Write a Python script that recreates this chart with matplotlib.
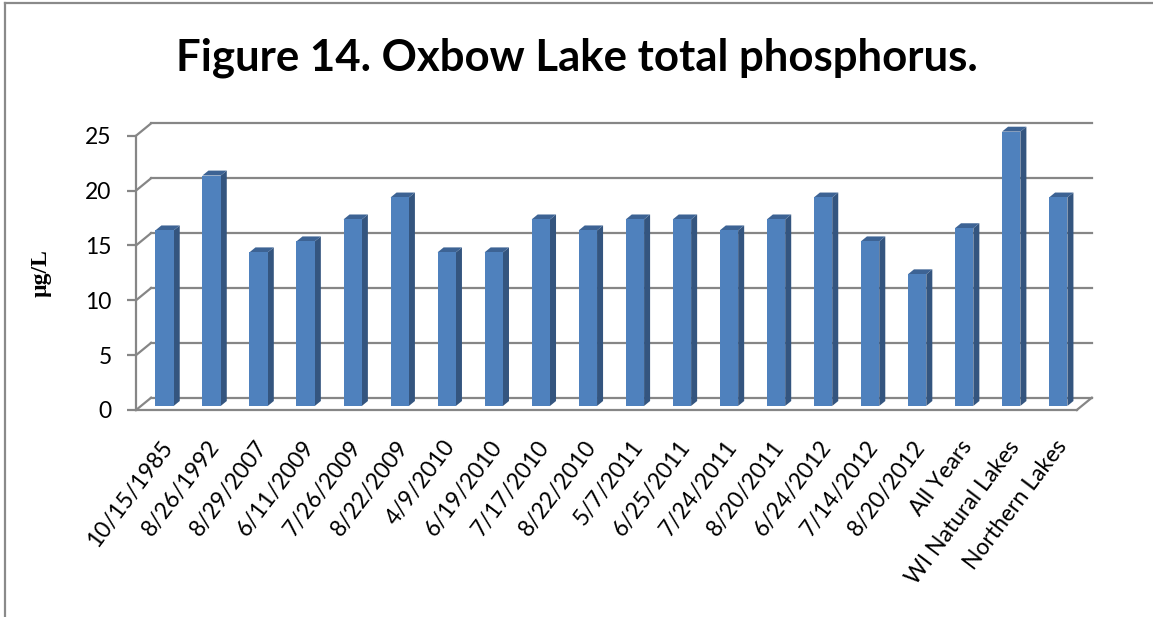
import matplotlib
matplotlib.use("Agg")
import matplotlib.pyplot as plt
from matplotlib.patches import Polygon
from matplotlib.lines import Line2D
from matplotlib.transforms import offset_copy

# data
labels = ["10/15/1985", "8/26/1992", "8/29/2007", "6/11/2009", "7/26/2009",
          "8/22/2009", "4/9/2010", "6/19/2010", "7/17/2010", "8/22/2010",
          "5/7/2011", "6/25/2011", "7/24/2011", "8/20/2011", "6/24/2012",
          "7/14/2012", "8/20/2012", "All Years", "WI Natural Lakes", "Northern Lakes"]
values = [16, 21, 14, 15, 17, 19, 14, 14, 17, 16,
          17, 17, 16, 17, 19, 15, 12, 16.2, 25, 19]
yticks = [0, 5, 10, 15, 20, 25]

FONT = "Lato"
GRID = "#868686"
FRONT = "#4f81bd"
SIDE = "#34557f"
TOP = "#3d6394"

# pseudo-3D depth (in data units: categories / µg/L)
DX, DY = 0.32, 1.12
F0, F1 = 0.33, 0.73
W = 0.39

fig = plt.figure(figsize=(11.53, 6.17), dpi=100)
ax = fig.add_axes([0.118, 0.3355, 0.8159, 0.4446])
n = len(values)
ax.set_xlim(-0.5, n - 0.5)
ax.set_ylim(0, 25)

# walls: back gridlines + left side diagonals
for v in yticks:
    ax.add_line(Line2D([-0.5 + DX, n - 0.5 + DX], [v + DY, v + DY], color=GRID,
                       lw=1.6, zorder=1, clip_on=False))
    ax.add_line(Line2D([-0.5, -0.5 + DX], [v, v + DY], color=GRID,
                       lw=1.6, zorder=1, clip_on=False))
ax.add_line(Line2D([n - 0.5, n - 0.5 + DX], [0, DY], color=GRID,
                   lw=1.6, zorder=1, clip_on=False))

# bars
for i, v in enumerate(values):
    left = i - W / 2 + F0 * DX
    right = i + W / 2 + F0 * DX
    bot = F0 * DY
    top = v + F0 * DY
    ddx = (F1 - F0) * DX
    ddy = (F1 - F0) * DY
    ax.add_patch(Polygon([(right, bot), (right + ddx, bot + ddy),
                          (right + ddx, top + ddy), (right, top)],
                         closed=True, fc=SIDE, ec="none", zorder=3, clip_on=False))
    ax.add_patch(Polygon([(left, top), (right, top), (right + ddx, top + ddy),
                          (left + ddx, top + ddy)],
                         closed=True, fc=TOP, ec="none", zorder=3, clip_on=False))
    ax.add_patch(Polygon([(left, bot), (right, bot), (right, top), (left, top)],
                         closed=True, fc=FRONT, ec="none", zorder=4, clip_on=False))

for s in ["top", "right"]:
    ax.spines[s].set_visible(False)
for s in ["left", "bottom"]:
    ax.spines[s].set_color(GRID)
    ax.spines[s].set_linewidth(1.6)
    ax.spines[s].set_zorder(2)

ax.set_xticks([])
ax.set_yticks(yticks)
ax.tick_params(axis="y", length=6.5, width=1.6, color=GRID, pad=11,
               labelsize=16.5)
for t in ax.get_yticklabels():
    t.set_fontfamily(FONT)

trans = offset_copy(ax.get_xaxis_transform(), fig=fig, x=9, y=-33, units="dots")
for i, lab in enumerate(labels):
    ax.text(i, 0, lab, transform=trans, rotation=53, rotation_mode="anchor",
            ha="right", va="center", fontsize=16.5, family=FONT)

ax.set_ylabel("µg/L", fontsize=17, fontweight="bold", family="Liberation Serif",
              labelpad=24)

fig.text(0.5, 0.8865, "Figure 14. Oxbow Lake total phosphorus.", ha="center",
         va="baseline", fontsize=31.5, fontweight="bold", family=FONT)

# chart border (left and top edges visible in the crop)
fig.add_artist(Line2D([5 / 1153, 5 / 1153], [0, 1 - 3 / 617], color="#8a8a8a",
                      lw=1.6, transform=fig.transFigure))
fig.add_artist(Line2D([5 / 1153, 1], [1 - 3 / 617, 1 - 3 / 617], color="#8a8a8a",
                      lw=1.6, transform=fig.transFigure))

fig.savefig("out.png", dpi=100)
